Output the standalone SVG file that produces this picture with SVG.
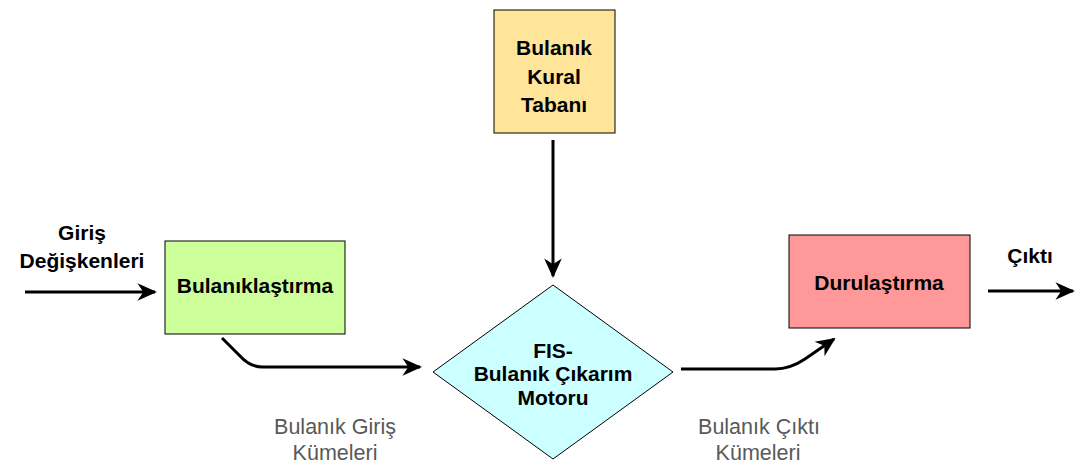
<svg xmlns="http://www.w3.org/2000/svg" width="1080" height="465" viewBox="0 0 1080 465">
<style>
.b{font-family:"Liberation Sans",Arial,sans-serif;font-weight:bold;font-size:21px;fill:#000;text-anchor:middle}
.l{font-family:"Liberation Sans",Arial,sans-serif;font-size:21.5px;fill:#595959;text-anchor:middle}
.box{stroke:#000;stroke-width:1}
.c{fill:none;stroke:#000;stroke-width:3;marker-end:url(#ah)}
</style>
<defs>
<marker id="ah" viewBox="0 0 10 10" refX="9" refY="5" markerWidth="6.5" markerHeight="6.5" orient="auto" markerUnits="strokeWidth">
<path d="M0,0.5 L10,5 L0,9.5 L3,5 Z" fill="#000"/>
</marker>
</defs>
<rect width="1080" height="465" fill="#fff"/>
<g id="connectors">
<path class="c" d="M25,292 H155"/>
<path class="c" d="M553,140 V276"/>
<path class="c" d="M222,338 L240,356 Q250,367 262,367 H420"/>
<path class="c" d="M681,369 H775 Q790,369 805,359 L834,339"/>
<path class="c" d="M988,291 H1073"/>
</g>
<g id="input-label">
<text class="b" x="82" y="240">Giriş</text>
<text class="b" x="82" y="268">Değişkenleri</text>
</g>
<g id="fuzzification">
<rect class="box" x="165" y="241" width="180" height="93" fill="#CCFF99"/>
<text class="b" x="255" y="293">Bulanıklaştırma</text>
</g>
<g id="rule-base">
<rect class="box" x="494" y="10" width="121" height="123" fill="#FFE599"/>
<text class="b" x="554" y="55">Bulanık</text>
<text class="b" x="554" y="84">Kural</text>
<text class="b" x="554" y="112">Tabanı</text>
</g>
<g id="inference">
<path class="box" d="M553,285 L673,372 L553,459 L433,372 Z" fill="#CCFFFF"/>
<text class="b" x="553" y="358">FIS-</text>
<text class="b" x="553" y="381">Bulanık Çıkarım</text>
<text class="b" x="553" y="405">Motoru</text>
</g>
<g id="defuzzification">
<rect class="box" x="789" y="235" width="181" height="93" fill="#FF9999"/>
<text class="b" x="879" y="290">Durulaştırma</text>
</g>
<g id="output-label">
<text class="b" x="1030" y="263">Çıktı</text>
</g>
<g id="fuzzy-input-sets">
<text class="l" x="335" y="434">Bulanık Giriş</text>
<text class="l" x="335" y="460">Kümeleri</text>
</g>
<g id="fuzzy-output-sets">
<text class="l" x="759" y="434">Bulanık Çıktı</text>
<text class="l" x="758" y="460">Kümeleri</text>
</g>
</svg>
